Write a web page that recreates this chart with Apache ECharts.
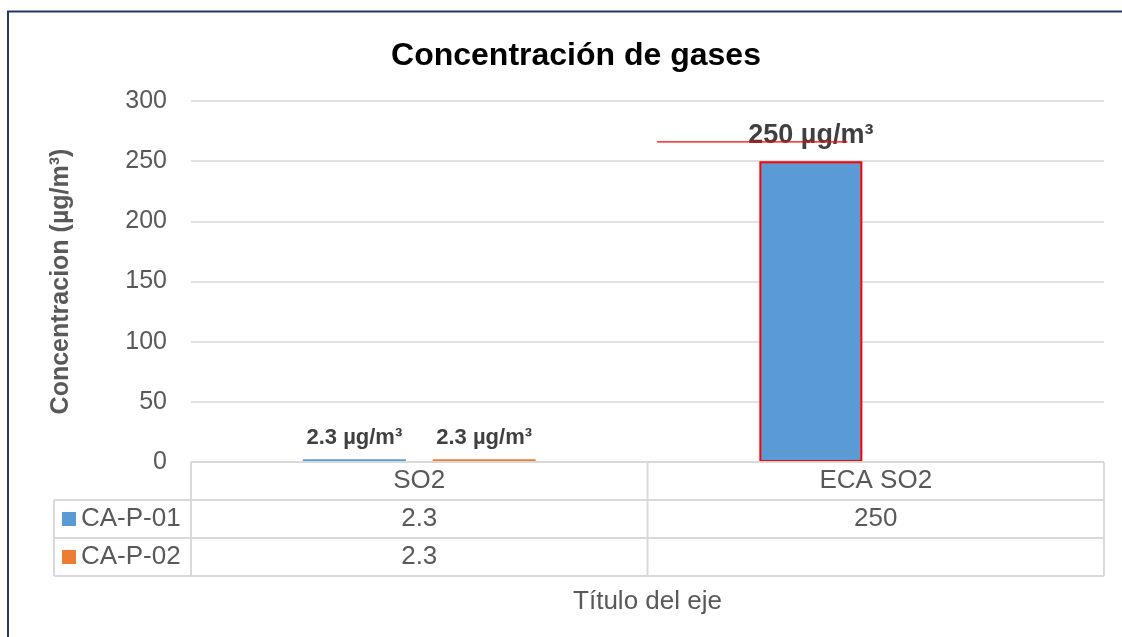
<!DOCTYPE html>
<html>
<head>
<meta charset="utf-8">
<script src="https://cdn.jsdelivr.net/npm/echarts@6/dist/echarts.min.js"></script>
<style>html,body{margin:0;padding:0;background:#fff}#c{width:1122px;height:637px}</style>
</head>
<body>
<div id="c"></div>
<script>
// ---- data ----
const categories = ['SO2', 'ECA SO2'];
const seriesNames = ['CA-P-01', 'CA-P-02'];
const caP01 = [2.3, 250];
const caP02 = [2.3, null];
const yMin = 0, yMax = 300, yInterval = 50;
const limitLineValue = 266;
const titleText = 'Concentración de gases';
const yAxisTitle = 'Concentracion (µg/m³)';
const xAxisTitle = 'Título del eje';
const unit = ' µg/m³';

// ---- layout ----
const FONT = '"Liberation Sans", Arial, sans-serif';
const GRID = {left: 191, right: 18, top: 101, bottom: 175};
const W = 1122, H = 637;
const ROW = 38;
const colors = ['#5B9BD5', '#ED7D31'];
const gridCol = '#D9D9D9';
const txt = '#595959';

const chart = echarts.init(document.getElementById('c'), null, {renderer: 'canvas'});

const s0 = caP01.map((v, i) => i === 1 ? {value: v, itemStyle: {borderColor: '#FF0000', borderWidth: 2}, label: {fontSize: 27, distance: 12}} : v);

const option = {
  animation: false,
  backgroundColor: '#fff',
  title: {text: titleText, left: 571, textAlign: 'center', top: 35, textStyle: {fontFamily: FONT, fontSize: 32, fontWeight: 'bold', color: '#000'}},
  grid: {left: GRID.left, right: GRID.right, top: GRID.top, bottom: GRID.bottom, containLabel: false},
  xAxis: {type: 'category', data: categories, axisLine: {show: false}, axisTick: {show: false}, axisLabel: {show: false}},
  yAxis: {
    type: 'value', min: yMin, max: yMax, interval: yInterval,
    name: yAxisTitle, nameLocation: 'middle', nameGap: 117, nameRotate: 90,
    nameTextStyle: {fontFamily: FONT, fontSize: 25, fontWeight: 'bold', color: txt},
    axisLine: {show: false}, axisTick: {show: false},
    axisLabel: {fontFamily: FONT, fontSize: 25, color: txt, margin: 24},
    splitLine: {lineStyle: {color: gridCol, width: 1.5}}
  },
  series: [
    {name: seriesNames[0], type: 'bar', data: s0, barGap: '26%', barCategoryGap: '49%',
     itemStyle: {color: colors[0]},
     label: {show: true, position: 'top', distance: 10, fontFamily: FONT, fontSize: 22, fontWeight: 'bold', color: '#404040', formatter: p => p.value + unit}},
    {name: seriesNames[1], type: 'bar', data: caP02, barGap: '26%', barCategoryGap: '49%',
     itemStyle: {color: colors[1]},
     label: {show: true, position: 'top', distance: 10, fontFamily: FONT, fontSize: 22, fontWeight: 'bold', color: '#404040', formatter: p => p.value + unit}}
  ]
};
chart.setOption(option);

// ---- data table & decorations, positioned from the grid ----
const left = GRID.left, right = W - GRID.right, top0 = H - GRID.bottom;
const band = (right - left) / categories.length;
const g = [];
const line = (x1, y1, x2, y2, c, w) => g.push({type: 'line', shape: {x1, y1, x2, y2}, style: {stroke: c || gridCol, lineWidth: w || 2}, z: 10});
const text = (t, x, y, align, opts) => g.push({type: 'text', x, y, style: Object.assign({text: t, fill: txt, font: '26px ' + FONT, textAlign: align || 'center', textVerticalAlign: 'middle'}, opts || {}), z: 11});

const legendLeft = 54;
// horizontal lines
line(left, top0, right, top0);
line(legendLeft, top0 + ROW, right, top0 + ROW);
line(legendLeft, top0 + 2 * ROW, right, top0 + 2 * ROW);
line(legendLeft, top0 + 3 * ROW, right, top0 + 3 * ROW);
// vertical lines
line(legendLeft, top0 + ROW, legendLeft, top0 + 3 * ROW);
for (let i = 0; i <= categories.length; i++) line(left + i * band, top0, left + i * band, top0 + 3 * ROW);
// header
categories.forEach((c, i) => text(c, left + (i + 0.5) * band, top0 + ROW / 2));
// rows
[caP01, caP02].forEach((arr, r) => {
  const yc = top0 + ROW * (r + 1.5);
  g.push({type: 'rect', shape: {x: legendLeft + 8, y: yc - 7, width: 14, height: 14}, style: {fill: colors[r]}, z: 11});
  text(seriesNames[r], legendLeft + 27, yc, 'left');
  arr.forEach((v, i) => { if (v !== null && v !== undefined) text(String(v), left + (i + 0.5) * band, yc); });
});
// x axis title
text(xAxisTitle, (left + right) / 2, top0 + 3 * ROW + 26);
// limit line (decorative red line)
const ly = chart.convertToPixel({yAxisIndex: 0}, limitLineValue);
const cx = chart.convertToPixel({xAxisIndex: 0}, categories[1]);
line(cx - 0.479 * band, ly, cx - 0.062 * band, ly, '#FF0000', 1.2);
// outer border
g.push({type: 'polyline', shape: {points: [[8, H + 5], [8, 11.5], [W + 5, 11.5]]}, style: {stroke: '#1F3864', lineWidth: 2, fill: null}, z: 12});

chart.setOption({graphic: g});
</script>
</body>
</html>
